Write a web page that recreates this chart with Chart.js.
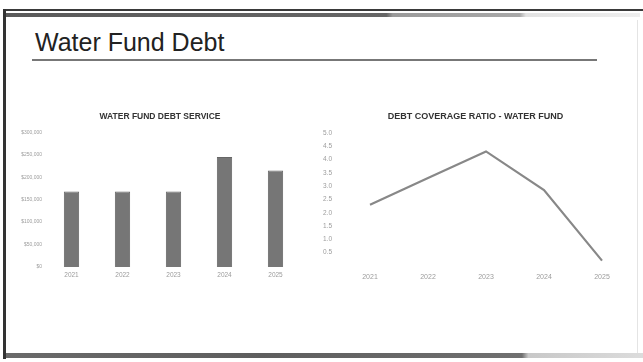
<!DOCTYPE html>
<html lang="en">
<head>
    <meta charset="UTF-8">
    <title>Water Fund Debt</title>
    <script src="https://cdn.jsdelivr.net/npm/chart.js@4.4.0/dist/chart.umd.min.js"></script>
    <style>
        body {
            margin: 0;
            width: 643px;
            height: 362px;
            background: #fff;
            font-family: 'Liberation Sans', Arial, sans-serif;
            position: relative;
            overflow: hidden;
        }
        .rule-top {
            position: absolute; left: 3px; top: 9px; width: 640px; height: 2px;
            background: #3a3a3a;
        }
        .band-top {
            position: absolute; left: 6px; top: 13px; width: 634px; height: 4px;
            background: linear-gradient(to right, #5a5a5a 0%, #666 60%, #9a9a9a 61%, #a8a8a8 81%, #e2e2e2 82%, #eee 100%);
        }
        .band-bottom {
            position: absolute; left: 6px; top: 353px; width: 637px; height: 5px;
            background: linear-gradient(to right, #6a6a6a 0%, #5e5e5e 40%, #707070 81%, #c8c8c8 82%, #dcdcdc 100%);
        }
        .rule-left {
            position: absolute; left: 3px; top: 9px; width: 3px; height: 350px;
            background: #333;
        }
        .rule-right {
            position: absolute; left: 637px; top: 20px; width: 1px; height: 333px;
            background: #e4e4e4;
        }
        h1 {
            position: absolute; left: 35px; top: 28px; margin: 0;
            font-weight: normal; font-size: 25px; color: #222;
        }
        .underline {
            position: absolute; left: 32px; top: 59px; width: 565px; height: 2px;
            background: #777;
        }
        .chart-box { position: absolute; }
    </style>
</head>
<body>
    <div class="rule-top"></div>
    <div class="band-top"></div>
    <div class="rule-left"></div>
    <div class="rule-right"></div>
    <div class="band-bottom"></div>
    <h1>Water Fund Debt</h1>
    <div class="underline"></div>

    <div class="chart-box" style="left:19px; top:100px; width:301px; height:190px;">
        <canvas id="debtService"></canvas>
    </div>
    <div class="chart-box" style="left:320px; top:100px; width:323px; height:190px;">
        <canvas id="coverage"></canvas>
    </div>

    <script>
        const years = ['2021', '2022', '2023', '2024', '2025'];
        const debtService = [168000, 168000, 168000, 245000, 215000];
        const coverageRatio = [2.3, 3.3, 4.3, 2.85, 0.2];

        const tickGrey = '#9c9c9c';
        const fontFamily = "'Liberation Sans', Arial, sans-serif";

        // pin axis sizes so both plot areas land where they should
        function fixWidth(w) {
            return function (scale) { scale.width = w; };
        }
        function fixHeight(h) {
            return function (scale) { scale.height = h; };
        }

        new Chart(document.getElementById('debtService'), {
            type: 'bar',
            data: {
                labels: years,
                datasets: [{
                    data: debtService,
                    backgroundColor: '#767676',
                    borderColor: '#666',
                    borderWidth: 1,
                    barPercentage: 0.3,
                    categoryPercentage: 1
                }]
            },
            options: {
                responsive: true,
                maintainAspectRatio: false,
                animation: false,
                layout: { padding: { left: 0, right: 19, top: 0, bottom: 0 } },
                plugins: {
                    legend: { display: false },
                    tooltip: { enabled: false },
                    title: {
                        display: true,
                        text: 'WATER FUND DEBT SERVICE',
                        color: '#333',
                        font: { family: fontFamily, size: 8.5, weight: 'bold' },
                        padding: { top: 12, bottom: 10 }
                    }
                },
                scales: {
                    x: {
                        grid: { display: false, drawTicks: false },
                        border: { display: false },
                        ticks: { color: tickGrey, font: { size: 6.5 }, padding: 4 },
                        afterFit: fixHeight(23)
                    },
                    y: {
                        min: 0,
                        max: 300000,
                        grid: { display: false, drawTicks: false },
                        border: { display: false },
                        ticks: {
                            stepSize: 50000,
                            color: tickGrey,
                            font: { size: 5 },
                            padding: 4,
                            callback: v => '$' + v.toLocaleString('en-US')
                        },
                        afterFit: fixWidth(27)
                    }
                }
            }
        });

        new Chart(document.getElementById('coverage'), {
            type: 'line',
            data: {
                labels: years,
                datasets: [{
                    data: coverageRatio,
                    borderColor: '#888',
                    borderWidth: 2.2,
                    pointRadius: 0,
                    tension: 0
                }]
            },
            options: {
                responsive: true,
                maintainAspectRatio: false,
                animation: false,
                layout: { padding: { left: 0, right: 12, top: 0, bottom: 0 } },
                plugins: {
                    legend: { display: false },
                    tooltip: { enabled: false },
                    title: {
                        display: true,
                        text: 'DEBT COVERAGE RATIO - WATER FUND',
                        color: '#333',
                        font: { family: fontFamily, size: 9, weight: 'bold' },
                        padding: { top: 11, bottom: 11 }
                    }
                },
                scales: {
                    x: {
                        grid: { display: false, drawTicks: false },
                        border: { display: false },
                        offset: true,
                        ticks: { color: tickGrey, font: { size: 7 }, padding: 7 },
                        afterFit: fixHeight(24)
                    },
                    y: {
                        min: 0,
                        max: 5,
                        grid: { display: false, drawTicks: false },
                        border: { display: false },
                        ticks: {
                            stepSize: 0.5,
                            color: tickGrey,
                            font: { size: 6.5 },
                            padding: 9,
                            callback: v => v === 0 ? '' : v.toFixed(1)
                        },
                        afterFit: fixWidth(21)
                    }
                }
            }
        });
    </script>
</body>
</html>
